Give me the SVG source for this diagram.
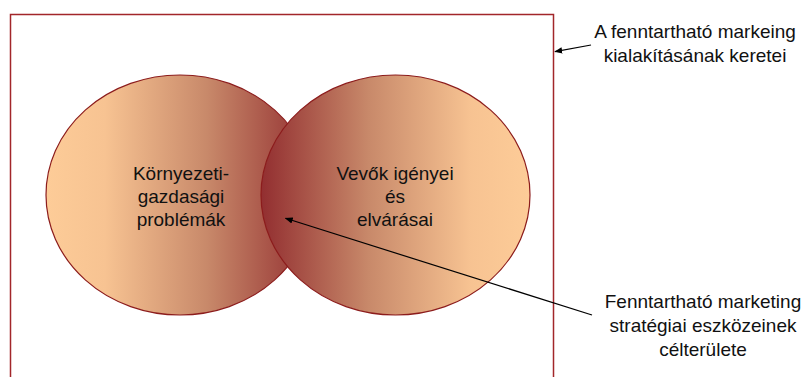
<svg xmlns="http://www.w3.org/2000/svg" width="804" height="377" viewBox="0 0 804 377">
  <defs>
    <linearGradient id="gradLeft" gradientUnits="userSpaceOnUse" x1="46" y1="0" x2="314" y2="0">
      <stop offset="0" stop-color="#fdcc98"/>
      <stop offset="0.22" stop-color="#f7c392"/>
      <stop offset="0.6" stop-color="#c8896a"/>
      <stop offset="1" stop-color="#922e30"/>
    </linearGradient>
    <linearGradient id="gradRight" gradientUnits="userSpaceOnUse" x1="261" y1="0" x2="530" y2="0">
      <stop offset="0" stop-color="#922e30"/>
      <stop offset="0.4" stop-color="#c8896a"/>
      <stop offset="0.78" stop-color="#f7c392"/>
      <stop offset="1" stop-color="#fdcc98"/>
    </linearGradient>
    <marker id="arrow" viewBox="0 0 10 10" refX="9" refY="5" markerWidth="8" markerHeight="8" markerUnits="userSpaceOnUse" orient="auto">
      <path d="M0,1 L10,5 L0,9 Z" fill="#000"/>
    </marker>
  </defs>
  <style>
    .label { font-family: "Liberation Sans", Arial, sans-serif; font-size: 19px; fill: #111; text-anchor: middle; }
    .circle { stroke: #8c1c1c; stroke-width: 1.2; }
    .frame { fill: none; stroke: #a2262a; stroke-width: 1.5; }
    .conn { stroke: #000; stroke-width: 1.2; fill: none; marker-end: url(#arrow); }
  </style>

  <!-- outer frame -->
  <g id="frame">
    <rect class="frame" x="10.5" y="14.5" width="543" height="380"/>
  </g>

  <!-- left set -->
  <g id="node-problems">
    <ellipse class="circle" cx="180" cy="195" rx="134" ry="120" fill="url(#gradLeft)"/>
    <text class="label" x="181" y="180">Környezeti-</text>
    <text class="label" x="181" y="203">gazdasági</text>
    <text class="label" x="181" y="226">problémák</text>
  </g>

  <!-- right set -->
  <g id="node-needs">
    <ellipse class="circle" cx="395.5" cy="195" rx="134.5" ry="120" fill="url(#gradRight)"/>
    <text class="label" x="395" y="180">Vevők igényei</text>
    <text class="label" x="395" y="203">és</text>
    <text class="label" x="395" y="226">elvárásai</text>
  </g>

  <!-- callout labels -->
  <g id="label-frame">
    <text class="label" x="695" y="38">A fenntartható markeing</text>
    <text class="label" x="695" y="62">kialakításának keretei</text>
  </g>
  <g id="label-target">
    <text class="label" x="703" y="308">Fenntartható marketing</text>
    <text class="label" x="703" y="332">stratégiai eszközeinek</text>
    <text class="label" x="703" y="356">célterülete</text>
  </g>

  <!-- connectors -->
  <g id="connectors">
    <line class="conn" x1="591" y1="45" x2="555" y2="51.7"/>
    <line class="conn" x1="592" y1="315" x2="285.5" y2="218.3"/>
  </g>
</svg>
